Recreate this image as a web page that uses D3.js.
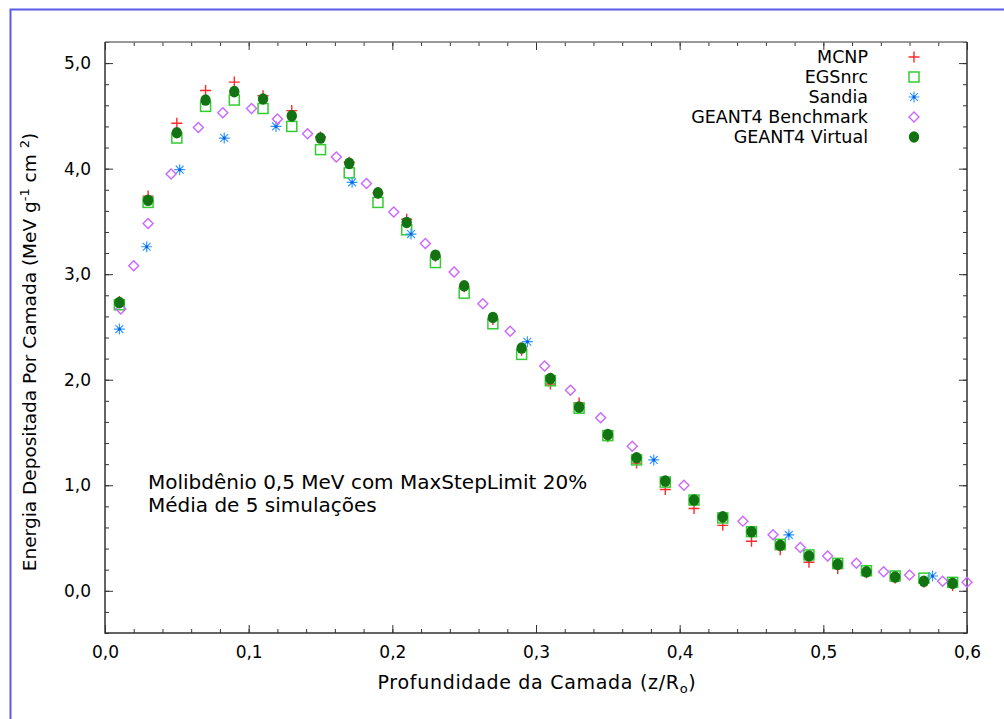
<!DOCTYPE html>
<html>
<head>
<meta charset="utf-8">
<script src="https://cdn.jsdelivr.net/npm/d3@7"></script>
<style>
  body { margin: 0; background: #fff; }
  text { font-family: "DejaVu Sans", Verdana, sans-serif; fill: #000; }
</style>
</head>
<body>
<div id="chart"></div>
<script>
// depth grid for MCNP, EGSnrc and GEANT4 Virtual
const xLayers = [0.01, 0.03, 0.05, 0.07, 0.09, 0.11, 0.13, 0.15, 0.17, 0.19,
                 0.21, 0.23, 0.25, 0.27, 0.29, 0.31, 0.33, 0.35, 0.37, 0.39,
                 0.41, 0.43, 0.45, 0.47, 0.49, 0.51, 0.53, 0.55, 0.57, 0.59];
const mcnp = [2.74, 3.74, 4.43, 4.74, 4.82, 4.69, 4.55, 4.30, 4.06, 3.77,
              3.52, 3.17, 2.88, 2.57, 2.28, 1.96, 1.78, 1.46, 1.21, 0.96,
              0.78, 0.62, 0.47, 0.39, 0.27, 0.21, 0.17, 0.12, 0.08, 0.05];
const egsnrc = [2.71, 3.68, 4.29, 4.59, 4.65, 4.57, 4.40, 4.18, 3.96, 3.68,
                3.42, 3.11, 2.82, 2.53, 2.24, 1.99, 1.73, 1.47, 1.24, 1.03,
                0.86, 0.69, 0.56, 0.44, 0.34, 0.26, 0.19, 0.14, 0.12, 0.08];
const virtual = [2.73, 3.70, 4.34, 4.65, 4.73, 4.66, 4.50, 4.29, 4.05, 3.77,
                 3.49, 3.18, 2.89, 2.59, 2.30, 2.01, 1.74, 1.48, 1.26, 1.04,
                 0.86, 0.70, 0.56, 0.43, 0.33, 0.25, 0.18, 0.13, 0.09, 0.07];
const sandiaX = [0.010, 0.029, 0.052, 0.083, 0.119, 0.172, 0.213, 0.294, 0.382, 0.476, 0.576];
const sandiaY = [2.48, 3.26, 3.99, 4.29, 4.40, 3.87, 3.38, 2.36, 1.24, 0.53, 0.14];
const benchX = [0.011, 0.020, 0.030, 0.046, 0.065, 0.082, 0.102, 0.120, 0.141, 0.161,
                0.182, 0.201, 0.223, 0.243, 0.263, 0.282, 0.306, 0.324, 0.345, 0.367,
                0.403, 0.444, 0.465, 0.484, 0.503, 0.523, 0.542, 0.560, 0.583, 0.600];
const benchY = [2.67, 3.08, 3.48, 3.95, 4.39, 4.53, 4.57, 4.47, 4.33, 4.11,
                3.86, 3.59, 3.29, 3.02, 2.72, 2.46, 2.13, 1.90, 1.64, 1.37,
                1.00, 0.66, 0.53, 0.41, 0.33, 0.26, 0.18, 0.15, 0.09, 0.08];
const legendNames = ["MCNP", "EGSnrc", "Sandia", "GEANT4 Benchmark", "GEANT4 Virtual"];
const xTicks = [0, 0.1, 0.2, 0.3, 0.4, 0.5, 0.6];
const yTicks = [0, 1, 2, 3, 4, 5];

const width = 1004, height = 719;
const mLeft = 105, mRight = 967, mTop = 42, mBottom = 633;

const svg = d3.select("#chart").append("svg")
    .attr("width", width)
    .attr("height", height);

// blue page border
svg.append("path")
    .attr("d", `M10.5,${height + 2} V9.5 H${width + 2}`)
    .attr("fill", "none")
    .attr("stroke", "#5a5aec")
    .attr("stroke-width", 2);

const x = d3.scaleLinear().domain([0, 0.6]).range([mLeft, mRight]);
const y = d3.scaleLinear().domain([-0.4, 5.2]).range([mBottom, mTop]);
const fmt = d => d3.format(".1f")(d).replace(".", ",");

// axes, ticks pointing inward
function addAxis(axis, tx, ty) {
    const g = svg.append("g").attr("transform", `translate(${tx},${ty})`).call(axis);
    g.select(".domain").remove();
    g.selectAll(".tick line").attr("stroke", "#333");
    return g;
}
const minorX = d3.range(0, 0.6001, 0.02);
const minorY = d3.range(-0.4, 5.2001, 0.2);

addAxis(d3.axisBottom(x).tickValues(minorX).tickSize(-4).tickFormat(""), 0, mBottom);
addAxis(d3.axisTop(x).tickValues(minorX).tickSize(-4).tickFormat(""), 0, mTop);
addAxis(d3.axisLeft(y).tickValues(minorY).tickSize(-4).tickFormat(""), mLeft, 0);
addAxis(d3.axisRight(y).tickValues(minorY).tickSize(-4).tickFormat(""), mRight, 0);

const gx = addAxis(d3.axisBottom(x).tickValues(xTicks).tickSize(-8).tickPadding(13).tickFormat(fmt), 0, mBottom);
addAxis(d3.axisTop(x).tickValues(xTicks).tickSize(-8).tickFormat(""), 0, mTop);
const gy = addAxis(d3.axisLeft(y).tickValues(yTicks).tickSize(-8).tickPadding(14).tickFormat(fmt), mLeft, 0);
addAxis(d3.axisRight(y).tickValues(yTicks).tickSize(-8).tickFormat(""), mRight, 0);
gx.selectAll("text").style("font-size", "17px").style("font-family", "DejaVu Sans").attr("fill", "#000");
gy.selectAll("text").style("font-size", "17px").style("font-family", "DejaVu Sans").attr("fill", "#000");

// frame
svg.append("path")
    .attr("d", `M${mLeft},${mTop} H${mRight}`)
    .attr("stroke", "#777").attr("stroke-width", 1.5);
svg.append("path")
    .attr("d", `M${mLeft},${mTop} V${mBottom} H${mRight} V${mTop}`)
    .attr("fill", "none").attr("stroke", "#333").attr("stroke-width", 1.5);

// marker shapes
const markers = {
    plus: (g, c) => g.append("path").attr("d", "M-5.5,0H5.5M0,-5.5V5.5")
        .attr("stroke", c).attr("stroke-width", 1.4).attr("fill", "none"),
    square: (g, c) => g.append("rect").attr("x", -5).attr("y", -5)
        .attr("width", 10).attr("height", 10)
        .attr("stroke", c).attr("stroke-width", 1.5).attr("fill", "none"),
    star: (g, c) => {
        g.append("path").attr("d", "M-5.5,0H5.5M0,-5.5V5.5M-3.9,-3.9L3.9,3.9M-3.9,3.9L3.9,-3.9")
            .attr("stroke", c).attr("stroke-width", 1.2).attr("fill", "none");
        g.append("circle").attr("r", 1.5).attr("fill", "#1060e0");
    },
    diamond: (g, c) => g.append("path").attr("d", "M0,-5L5,0L0,5L-5,0Z")
        .attr("stroke", c).attr("stroke-width", 1.4).attr("fill", "none"),
    dot: (g, c) => g.append("ellipse").attr("rx", 5.2).attr("ry", 5.8).attr("fill", c)
};

const series = [
    { name: legendNames[0], xs: xLayers, ys: mcnp, shape: "plus", color: "#ff2a2a" },
    { name: legendNames[1], xs: xLayers, ys: egsnrc, shape: "square", color: "#33cc33" },
    { name: legendNames[2], xs: sandiaX, ys: sandiaY, shape: "star", color: "#3399ff" },
    { name: legendNames[3], xs: benchX, ys: benchY, shape: "diamond", color: "#cc66ff" },
    { name: legendNames[4], xs: xLayers, ys: virtual, shape: "dot", color: "#137313" }
];

series.forEach(s => {
    s.xs.forEach((xv, i) => {
        const g = svg.append("g")
            .attr("transform", `translate(${x(xv)},${y(s.ys[i])})`);
        markers[s.shape](g, s.color);
    });
});

// legend
series.forEach((s, i) => {
    const ly = 57 + i * 20;
    svg.append("text")
        .attr("x", 868).attr("y", ly + 6)
        .attr("text-anchor", "end")
        .style("font-size", "17.5px")
        .text(s.name);
    const g = svg.append("g").attr("transform", `translate(914,${ly})`);
    markers[s.shape](g, s.color);
});

// annotation
svg.append("text").attr("x", 148).attr("y", 489)
    .style("font-size", "20px").text("Molibdênio 0,5 MeV com MaxStepLimit 20%");
svg.append("text").attr("x", 148).attr("y", 512)
    .style("font-size", "20px").text("Média de 5 simulações");

// axis titles
const xl = svg.append("text").attr("x", 537).attr("y", 689)
    .attr("text-anchor", "middle").style("font-size", "19px")
    .style("letter-spacing", "0.7px");
xl.append("tspan").text("Profundidade da Camada (z/R");
xl.append("tspan").attr("dy", 4).style("font-size", "13px").text("o");
xl.append("tspan").attr("dy", -4).text(")");

const yl = svg.append("text")
    .attr("transform", "translate(36,352) rotate(-90)")
    .attr("text-anchor", "middle").style("font-size", "18.5px");
yl.append("tspan").text("Energia Depositada Por Camada (MeV g");
yl.append("tspan").attr("dy", -7).style("font-size", "13px").text("-1");
yl.append("tspan").attr("dy", 7).text(" cm ");
yl.append("tspan").attr("dy", -7).style("font-size", "13px").text("2");
yl.append("tspan").attr("dy", 7).text(")");
</script>
</body>
</html>
